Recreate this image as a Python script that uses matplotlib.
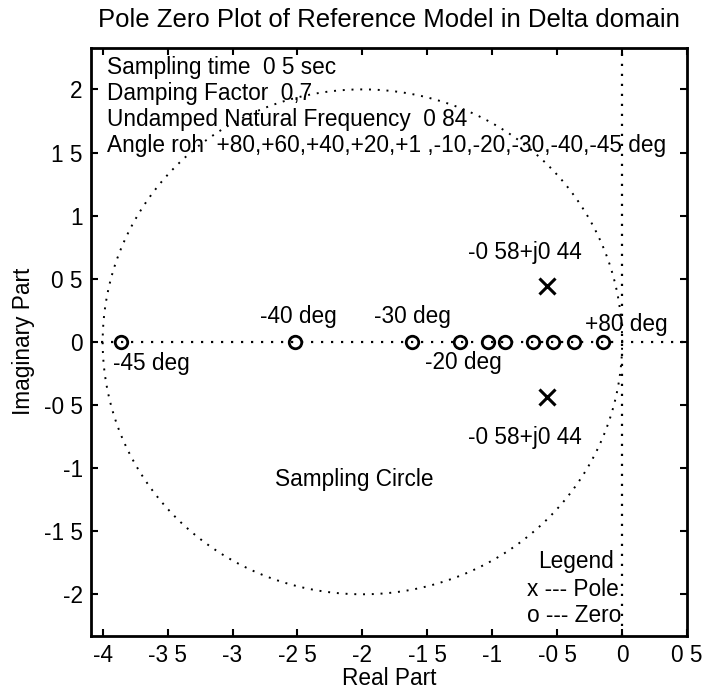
import numpy as np
import matplotlib.pyplot as plt

plt.rcParams['font.family'] = ['Liberation Sans', 'DejaVu Sans']

# sampling period and the resulting sampling circle in the delta domain
T = 0.5
circ_c = -1.0 / T
circ_r = 1.0 / T

# zeros of the reference model for each angle rho (deg)
angles = ['+80', '+60', '+40', '+20', '+1', '-10', '-20', '-30', '-40', '-45']
zeros_re = [-0.15, -0.37, -0.53, -0.69, -0.90, -1.03, -1.25, -1.62, -2.52, -3.86]

# complex pole pair
pole_re = -0.58
pole_im = 0.44

xticks = np.arange(-4, 0.51, 0.5)
yticks = np.arange(-2, 2.01, 0.5)
xtick_labels = ['-4', '-3 5', '-3', '-2 5', '-2', '-1 5', '-1', '-0 5', '0', '0 5']
ytick_labels = ['-2', '-1 5', '-1', '-0 5', '0', '0 5', '1', '1 5', '2']

info_lines = ['Sampling time  0 5 sec',
              'Damping Factor  0,7',
              'Undamped Natural Frequency  0 84',
              'Angle roh  +80,+60,+40,+20,+1 ,-10,-20,-30,-40,-45 deg']

fig = plt.figure(figsize=(7.08, 6.92), dpi=100)
ax = fig.add_axes([0.1285, 0.081, 0.842, 0.850])

dot = (0, (1, 3.5))
th = np.linspace(0, 2 * np.pi, 400)
ax.plot(circ_c + circ_r * np.cos(th), circ_r * np.sin(th), color='k', lw=1.4, ls=dot)
ax.axhline(0, color='k', lw=1.6, ls=dot)
ax.axvline(0, color='k', lw=1.6, ls=dot)

ax.plot(zeros_re, np.zeros(len(zeros_re)), 'o', mfc='none', mec='k', ms=9, mew=2)
ax.plot([pole_re, pole_re], [pole_im, -pole_im], 'x', color='k', ms=12, mew=2.2)

fs = 16.3
for i, s in enumerate(info_lines):
    ax.text(-3.97, 2.17 - 0.205 * i, s, fontsize=fs, va='center', ha='left')

ax.text(-1.19, 0.71, '-0 58+j0 44', fontsize=fs, va='center')
ax.text(-1.19, -0.76, '-0 58+j0 44', fontsize=fs, va='center')
ax.text(-2.79, 0.20, angles[8] + ' deg', fontsize=fs, va='center')
ax.text(-1.91, 0.20, angles[7] + ' deg', fontsize=fs, va='center')
ax.text(-0.285, 0.14, angles[0] + ' deg', fontsize=fs, va='center')
ax.text(-3.92, -0.17, angles[9] + ' deg', fontsize=fs, va='center')
ax.text(-1.52, -0.16, angles[6] + ' deg', fontsize=fs, va='center')
ax.text(-2.67, -1.09, 'Sampling Circle', fontsize=fs, va='center')

ax.text(-0.65, -1.74, 'Legend', fontsize=fs, va='center')
ax.text(-0.73, -1.96, 'x --- Pole', fontsize=fs, va='center')
ax.text(-0.73, -2.17, 'o --- Zero', fontsize=fs, va='center')

ax.set_xlim(-4.09, 0.5)
ax.set_ylim(-2.33, 2.33)
ax.set_xticks(xticks)
ax.set_xticklabels(xtick_labels)
ax.set_yticks(yticks)
ax.set_yticklabels(ytick_labels)
ax.tick_params(direction='in', length=5, width=1.5, labelsize=fs,
               top=True, right=True, pad=6)
for sp in ax.spines.values():
    sp.set_linewidth(2)

ax.set_xlabel('Real Part', fontsize=fs, labelpad=0)
ax.set_ylabel('Imaginary Part', fontsize=fs, labelpad=6)
ax.set_title('Pole Zero Plot of Reference Model in Delta domain', fontsize=18.5, pad=15)

fig.savefig('out.png', dpi=100)
